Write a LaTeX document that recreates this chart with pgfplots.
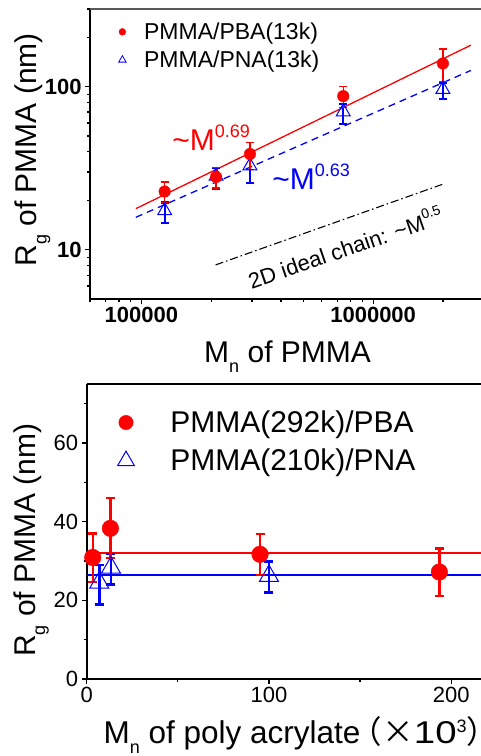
\documentclass[border=0pt]{standalone}
\usepackage{pgfplots}
\pgfplotsset{compat=1.18}
\usepackage{fontspec}
\setmainfont{Liberation Sans}
\newfontfamily\cjk{Noto Sans CJK SC}
\definecolor{myred}{RGB}{255,0,0}
\definecolor{myblue}{RGB}{0,0,255}
\newcommand{\lab}{\fontsize{30bp}{32bp}\selectfont}
\newcommand{\sub}[1]{\raisebox{-10bp}{\fontsize{18bp}{18bp}\selectfont #1}}
\begin{document}
\begin{tikzpicture}
\path[use as bounding box] (0bp,0bp) rectangle (481bp,756bp);
% ---------------- top panel ----------------
\begin{axis}[
  at={(90bp,457bp)}, anchor=south west,
  scale only axis, width=392bp, height=290bp,
  xmode=log, ymode=log,
  xmin=60000, xmax=2.95e6, ymin=5, ymax=300,
  axis x line*=bottom, axis y line*=left,
  axis line style={line width=1.6bp, -},
  tick align=outside,
  major tick length=5bp, minor tick length=3bp,
  every tick/.style={black, line width=1.2bp},
  xtick={1e5,1e6}, xticklabels={\textbf{100000},\textbf{1000000}},
  minor xtick={6e4,7e4,8e4,9e4,2e5,3e5,4e5,5e5,6e5,7e5,8e5,9e5,2e6},
  ytick={10,100}, yticklabels={\textbf{10},\textbf{100}},
  minor ytick={6,7,8,9,20,30,40,50,60,70,80,90,200,300},
  ticklabel style={font=\fontsize{22bp}{24bp}\selectfont},
  xlabel={\lab M\sub{n} of PMMA},
  ylabel={\lab R\sub{g} of PMMA (nm)},
  xlabel style={at={(axis description cs:0.504,-0.2207)}, anchor=base},
  ylabel style={at={(axis description cs:-0.136,0.514)}, anchor=base},
  clip=false,
  legend style={at={(axis description cs:0.065,0.967)}, anchor=north west, draw=none, fill=none,
    font=\fontsize{23bp}{25bp}\selectfont, row sep=6bp,
    /tikz/every odd column/.append style={column sep=16bp}},
  legend cell align=left,
]
\draw[black!65, line width=1.6bp] (rel axis cs:0,1) -- (rel axis cs:1,1);
\addlegendimage{only marks, mark=*, myred, mark size=3.4bp}
\addlegendentry{PMMA/PBA(13k)}
\addlegendimage{only marks, mark=triangle, myblue, mark size=4.3bp, mark options={line width=0.8bp}}
\addlegendentry{PMMA/PNA(13k)}
% fits
\addplot[myred, line width=1.3bp, forget plot] coordinates {(94600,17.9) (2640000,180)};
\addplot[myblue, line width=1.3bp, dashed, dash pattern=on 7bp off 5bp, forget plot] coordinates {(94600,15.85) (2640000,126)};
\addplot[black, line width=1.1bp, dash pattern=on 8bp off 3bp on 1.5bp off 3bp, forget plot] coordinates {(209000,8.09) (2000000,25.3)};
% data
\addplot[only marks, mark=triangle, myblue, mark size=8bp, mark options={line width=1bp}, forget plot,
  error bars/.cd, y dir=both, y explicit,
  error bar style={line width=2.2bp, myblue},
  error mark options={rotate=90, mark size=4bp, line width=2.2bp, myblue}]
  table[x=x, y=y, y error plus=ep, y error minus=em] {
x y ep em
126000 17.4 2.1 2.8
210000 28.3 3.5 4.5
294000 32.8 5.0 7.0
743000 70.3 8.1 11.1
2000000 96.4 9.6 11.9
};
\addplot[only marks, mark=*, myred, mark size=5.8bp, forget plot,
  error bars/.cd, y dir=both, y explicit,
  error bar style={line width=1.5bp, myred},
  error mark options={rotate=90, mark size=4bp, line width=1.5bp, myred}]
  table[x=x, y=y, y error plus=ep, y error minus=em] {
x y ep em
126000 22.8 3.3 3.3
210000 28.0 4.0 4.0
294000 38.7 6.7 7.5
743000 87.7 13 13
2000000 139 31 31
};
\node[myred, anchor=center] at (axis cs:200000,48.5) {\fontsize{30bp}{30bp}\selectfont \textasciitilde M\raisebox{13bp}{\fontsize{18bp}{18bp}\selectfont 0.69}};
\node[myblue, anchor=center] at (axis cs:540000,28.0) {\fontsize{30bp}{30bp}\selectfont \textasciitilde M\raisebox{13bp}{\fontsize{18bp}{18bp}\selectfont 0.63}};
\node[black, anchor=center, rotate=19] at (axis cs:756000,10.4) {\fontsize{22bp}{22bp}\selectfont 2D ideal chain: \textasciitilde M\raisebox{10bp}{\fontsize{14bp}{14bp}\selectfont 0.5}};
\end{axis}
% ---------------- bottom panel ----------------
\begin{axis}[
  at={(86.7bp,77bp)}, anchor=south west,
  scale only axis, width=397.3bp, height=295bp,
  xmin=0, xmax=218, ymin=0, ymax=75,
  axis x line*=bottom, axis y line*=left,
  axis line style={line width=1.6bp, -},
  tick align=outside,
  major tick length=5bp, minor tick length=3bp,
  every tick/.style={black, line width=1.2bp},
  xtick={0,100,200}, minor xtick={50,150},
  ytick={0,20,40,60}, minor ytick={10,30,50,70},
  ticklabel style={font=\fontsize{22bp}{24bp}\selectfont},
  /pgf/number format/assume math mode=true,
  xlabel={\fontsize{31.5bp}{33bp}\selectfont M\sub{n} of poly acrylate\makebox[0.7em][r]{\cjk （}{\cjk ×}\scalebox{1.22}[1]{10}\raisebox{11bp}{\fontsize{18bp}{18bp}\selectfont 3}\makebox[0.5em][l]{\cjk ）}},
  ylabel={\lab R\sub{g} of PMMA (nm)},
  xlabel style={at={(axis description cs:0.0335,-0.217)}, anchor=base west},
  ylabel style={at={(axis description cs:-0.130,0.471)}, anchor=base},
  clip=false,
  legend style={at={(axis description cs:0.070,0.923)}, anchor=north west, draw=none, fill=none,
    font=\fontsize{30bp}{32bp}\selectfont, row sep=11bp,
    /tikz/every odd column/.append style={column sep=34bp}},
  legend cell align=left,
]
\draw[black, line width=1.6bp] (rel axis cs:0,1) -- (rel axis cs:1,1);
\addlegendimage{only marks, mark=*, myred, mark size=7.2bp}
\addlegendentry{PMMA(292k)/PBA}
\addlegendimage{only marks, mark=triangle, myblue, mark size=9.6bp, mark options={line width=1bp}}
\addlegendentry{PMMA(210k)/PNA}
\addplot[myred, line width=1.5bp, forget plot] coordinates {(0,32.0) (218,32.0)};
\addplot[myblue, line width=1.5bp, forget plot] coordinates {(0,26.4) (218,26.4)};
\addplot[only marks, mark=triangle, myblue, mark size=11bp, mark options={line width=1bp}, forget plot,
  error bars/.cd, y dir=both, y explicit,
  error bar style={line width=2.6bp, myblue},
  error mark options={rotate=90, mark size=4.5bp, line width=2.6bp, myblue}]
  table[x=x, y=y, y error plus=ep, y error minus=em] {
x y ep em
6.9 24.5 4.5 5.5
13.3 28.3 3.5 4.3
100 26.2 3.7 4.2
};
\addplot[only marks, mark=*, myred, mark size=8.3bp, forget plot,
  error bars/.cd, y dir=both, y explicit,
  error bar style={line width=2.4bp, myred},
  error mark options={rotate=90, mark size=4.5bp, line width=2.2bp, myred}]
  table[x=x, y=y, y error plus=ep, y error minus=em] {
x y ep em
3.3 30.9 6.1 6.3
13.0 38.3 7.8 7.6
95.1 31.7 5.2 5.3
193.5 27.2 6.0 6.1
};
\end{axis}
\end{tikzpicture}
\end{document}
